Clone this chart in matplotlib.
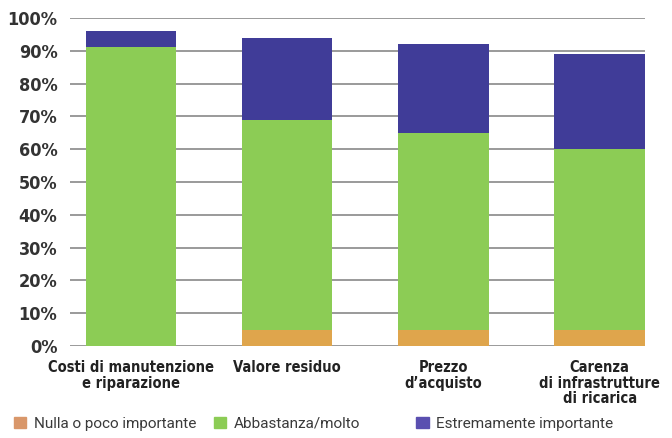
import matplotlib
matplotlib.use("Agg")
import matplotlib.pyplot as plt
import numpy as np

categories = ["Costi di manutenzione\ne riparazione", "Valore residuo",
              "Prezzo\nd\u2019acquisto", "Carenza\ndi infrastrutture\ndi ricarica"]
series_names = ["Nulla o poco importante", "Abbastanza/molto", "Estremamente importante"]
nulla = [0, 5, 5, 5]
abbastanza = [91, 64, 60, 55]
estremamente = [5, 25, 27, 29]
yticks = [0, 10, 20, 30, 40, 50, 60, 70, 80, 90, 100]
ytick_labels = ["0%", "10%", "20%", "30%", "40%", "50%", "60%", "70%", "80%", "90%", "100%"]

colors = ["#dfa54c", "#8ccc55", "#403c98"]
legend_colors = ["#d9976a", "#8ccc55", "#5a4fb0"]

fig = plt.figure(figsize=(6.72, 4.38), dpi=100)
ax = fig.add_axes([0.104, 0.21, 0.856, 0.749])

x = np.arange(len(categories))
w = 0.58
ax.bar(x, nulla, w, color=colors[0], zorder=3)
ax.bar(x, abbastanza, w, bottom=nulla, color=colors[1], zorder=3)
bottom3 = [a + b for a, b in zip(nulla, abbastanza)]
ax.bar(x, estremamente, w, bottom=bottom3, color=colors[2], zorder=3)

ax.set_ylim(0, 100)
ax.set_xlim(-0.39, 3.29)
ax.set_yticks(yticks)
ax.set_yticklabels(ytick_labels, fontfamily="DejaVu Sans", fontstretch="condensed",
                   fontweight="bold", fontsize=13, color="#333333")
ax.set_xticks(x)
ax.set_xticklabels(categories, fontfamily="DejaVu Sans", fontstretch="condensed",
                   fontweight="bold", fontsize=10.5, color="#222222", linespacing=1.05)
ax.tick_params(axis="both", length=0)
ax.tick_params(axis="x", pad=10)
ax.tick_params(axis="y", pad=9)
ax.grid(axis="y", color="#9a9a9a", linewidth=1.4, zorder=0)
for s in ax.spines.values():
    s.set_visible(False)

legend_x = [0.0005, 0.298, 0.599]
for name, c, lx in zip(series_names, legend_colors, legend_x):
    leg = fig.legend([plt.Rectangle((0, 0), 1, 1, color=c)], [name], loc="lower left",
                     bbox_to_anchor=(lx, -0.015), frameon=False, handlelength=0.8,
                     handleheight=0.8, handletextpad=0.5,
                     prop={"family": "Roboto", "weight": "normal", "size": 11})
    for t in leg.get_texts():
        t.set_color("#3a3a3a")

fig.savefig("out.png", dpi=100, facecolor="white")
